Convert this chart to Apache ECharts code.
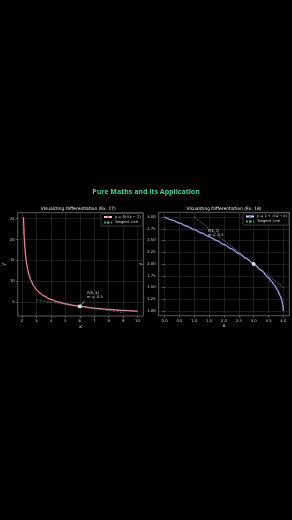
<!DOCTYPE html>
<html><head><meta charset="utf-8">
<script src="https://cdn.jsdelivr.net/npm/echarts@6/dist/echarts.min.js"></script>
<style>html,body{margin:0;padding:0;background:#000;}#c{width:292px;height:520px;}</style>
</head><body><div id="c"></div>
<script>
// ---- data ----
const mainTitle = 'Pure Maths and Its Application';
const leftTitle = 'Visualizing Differentiation (Ex. 17)';
const rightTitle = 'Visualizing Differentiation (Ex. 18)';

// Ex. 17: y = 8/sqrt(x-2)
const leftCurveX = [2.1, 2.12, 2.15, 2.2, 2.25, 2.3, 2.35, 2.4, 2.5, 2.6, 2.8, 3, 3.25, 3.5, 4, 4.5, 5, 5.5, 6, 7, 8, 9, 10];
const leftCurveY = [25.30, 23.09, 20.66, 17.89, 16.00, 14.61, 13.52, 12.65, 11.31, 10.33, 8.94, 8.00, 7.16, 6.53, 5.66, 5.06, 4.62, 4.28, 4.00, 3.58, 3.27, 3.02, 2.83];
const leftTangentX = [3, 9];
const leftTangentY = [5.5, 2.5];
const leftPoint = [6, 4];
const leftLabel = 'P(6, 4)\nm = -0.5';
const leftLabelAt = [6.5, 6.75];
const leftArrowX = [6.33, 6];
const leftArrowY = [5.3, 4];
const leftXTicks = [2, 3, 4, 5, 6, 7, 8, 9, 10];
const leftYTicks = [5, 10, 15, 20, 25];
const leftLegend = ['y = 8/√(x − 2)', 'Tangent Line'];

// Ex. 18: y = 1 + sqrt(4-x)
const rightCurveX = [0, 0.25, 0.5, 0.75, 1, 1.25, 1.5, 1.75, 2, 2.25, 2.5, 2.75, 3, 3.25, 3.5, 3.6, 3.7, 3.8, 3.9, 3.95, 3.98, 3.995, 4];
const rightCurveY = [3.000, 2.936, 2.871, 2.803, 2.732, 2.658, 2.581, 2.500, 2.414, 2.323, 2.225, 2.118, 2.000, 1.866, 1.707, 1.632, 1.548, 1.447, 1.316, 1.224, 1.141, 1.071, 1.000];
const rightTangentX = [1, 4];
const rightTangentY = [3, 1.5];
const rightPoint = [3, 2];
const rightLabel = 'P(3, 2)\nm = -0.5';
const rightLabelAt = [1.45, 2.66];
const rightXTicks = [0, 0.5, 1, 1.5, 2, 2.5, 3, 3.5, 4];
const rightYTicks = [1, 1.25, 1.5, 1.75, 2, 2.25, 2.5, 2.75, 3];
const rightLegend = ['y = 1 + √(4 − x)', 'Tangent Line'];

// ---- build ----
const zip = (xs, ys) => xs.map((x, i) => [x, ys[i]]);
const FONT = 'DejaVu Sans';
const tickColor = '#cfcfcf';
const gridColor = '#303030';

function xAxis(idx, min, max, ticks, fmt) {
  return {
    type: 'value', gridIndex: idx, min: min, max: max,
    name: 'x', nameLocation: 'middle', nameGap: 8,
    nameTextStyle: { color: '#ddd', fontSize: 5, fontFamily: FONT },
    axisLine: { show: false },
    axisTick: { show: true, length: 2, customValues: ticks, lineStyle: { color: '#aaa', width: 0.5 } },
    axisLabel: { customValues: ticks, formatter: fmt, color: tickColor, fontSize: 3.8, margin: 3, fontFamily: FONT },
    splitLine: { show: true, lineStyle: { color: gridColor, width: 0.6 } }
  };
}
function yAxis(idx, min, max, ticks, fmt, gap) {
  return {
    type: 'value', gridIndex: idx, min: min, max: max,
    name: 'y', nameLocation: 'middle', nameGap: gap, nameRotate: 90,
    nameTextStyle: { color: '#ddd', fontSize: 5, fontFamily: FONT },
    axisLine: { show: false },
    axisTick: { show: true, length: 2, customValues: ticks, lineStyle: { color: '#aaa', width: 0.5 } },
    axisLabel: { customValues: ticks, formatter: fmt, color: tickColor, fontSize: 3.8, margin: 3, fontFamily: FONT },
    splitLine: { show: true, lineStyle: { color: gridColor, width: 0.6 } }
  };
}

const chart = echarts.init(document.getElementById('c'), null, { renderer: 'canvas' });
chart.setOption({
  backgroundColor: '#000',
  animation: false,
  title: [
    { text: mainTitle, left: 146, top: 188, textAlign: 'center', padding: 0,
      textStyle: { color: '#3fd48e', fontSize: 7, fontWeight: 'bold', fontFamily: 'Open Sans' } },
    { text: leftTitle, left: 78.3, top: 206.6, textAlign: 'center', padding: 0,
      textStyle: { color: '#e8e8e8', fontSize: 4.4, fontWeight: 'normal', fontFamily: FONT } },
    { text: rightTitle, left: 224, top: 206.6, textAlign: 'center', padding: 0,
      textStyle: { color: '#e8e8e8', fontSize: 4.4, fontWeight: 'normal', fontFamily: FONT } }
  ],
  legend: [
    { data: leftLegend, orient: 'vertical', right: 149.3, top: 213.5, align: 'left',
      padding: [1.5, 2, 1.5, 2], itemGap: 1.5, itemWidth: 8, itemHeight: 3,
      borderColor: '#777', borderWidth: 0.5, backgroundColor: '#000', borderRadius: 1,
      textStyle: { color: '#ddd', fontSize: 3.6, fontFamily: FONT, padding: [0, 0, 0, -2] } },
    { data: rightLegend, orient: 'vertical', right: 3.2, top: 213, align: 'left',
      padding: [1.5, 2, 1.5, 2], itemGap: 1, itemWidth: 8, itemHeight: 3,
      borderColor: '#777', borderWidth: 0.5, backgroundColor: '#000', borderRadius: 1,
      textStyle: { color: '#ddd', fontSize: 3.6, fontFamily: FONT, padding: [0, 0, 0, -2] } }
  ],
  grid: [
    { left: 13.3, right: 292 - 143.3, top: 212.7, bottom: 520 - 316, show: true,
      borderColor: '#9a9a9a', borderWidth: 0.6, backgroundColor: 'transparent' },
    { left: 158.7, right: 292 - 289.3, top: 212.3, bottom: 520 - 315.7, show: true,
      borderColor: '#9a9a9a', borderWidth: 0.6, backgroundColor: 'transparent' }
  ],
  xAxis: [
    xAxis(0, 1.7, 10.4, leftXTicks, v => String(v)),
    xAxis(1, -0.2, 4.2, rightXTicks, v => v.toFixed(1))
  ],
  yAxis: [
    yAxis(0, 1.7, 26.42, leftYTicks, v => String(v), 8),
    yAxis(1, 0.9, 3.1, rightYTicks, v => v.toFixed(2), 10)
  ],
  series: [
    // left chart
    { type: 'line', name: 'glowL', xAxisIndex: 0, yAxisIndex: 0, data: zip(leftCurveX, leftCurveY),
      symbol: 'none', smooth: 0.3, smoothMonotone: 'x', lineStyle: { color: '#a8203a', width: 2.0, opacity: 0.7 }, z: 2 },
    { type: 'line', name: leftLegend[0], xAxisIndex: 0, yAxisIndex: 0, data: zip(leftCurveX, leftCurveY),
      symbol: 'none', smooth: 0.3, smoothMonotone: 'x', color: '#d9687e',
      lineStyle: { color: '#f0c4cc', width: 0.8 }, z: 3 },
    { type: 'line', name: leftLegend[1], xAxisIndex: 0, yAxisIndex: 0, data: zip(leftTangentX, leftTangentY),
      symbol: 'none', color: '#3aa874', lineStyle: { color: '#3aa874', width: 0.7, type: [2, 1.5] }, z: 4 },
    { type: 'line', name: 'arrowL', xAxisIndex: 0, yAxisIndex: 0, data: zip(leftArrowX, leftArrowY),
      symbol: 'none', lineStyle: { color: '#fff', width: 0.6 }, z: 5 },
    { type: 'scatter', name: 'ptL', xAxisIndex: 0, yAxisIndex: 0, data: [leftPoint],
      symbol: 'rect', symbolSize: 3.5, itemStyle: { color: '#fff' }, z: 6 },
    { type: 'scatter', name: 'lblL', xAxisIndex: 0, yAxisIndex: 0, data: [leftLabelAt],
      symbolSize: 0.01, itemStyle: { color: 'transparent' }, z: 7,
      label: { show: true, position: 'right', distance: 0, formatter: leftLabel, color: '#fff',
        fontSize: 3.6, lineHeight: 4.4, fontFamily: FONT, align: 'left' } },
    // right chart
    { type: 'line', name: 'glowR', xAxisIndex: 1, yAxisIndex: 1, data: zip(rightCurveX, rightCurveY),
      symbol: 'none', smooth: 0.3, smoothMonotone: 'x', lineStyle: { color: '#3a4c9c', width: 2.0, opacity: 0.75 }, z: 2 },
    { type: 'line', name: rightLegend[0], xAxisIndex: 1, yAxisIndex: 1, data: zip(rightCurveX, rightCurveY),
      symbol: 'none', smooth: 0.3, smoothMonotone: 'x', color: '#7080c8',
      lineStyle: { color: '#cdd7f5', width: 0.8 }, z: 3 },
    { type: 'line', name: rightLegend[1], xAxisIndex: 1, yAxisIndex: 1, data: zip(rightTangentX, rightTangentY),
      symbol: 'none', color: '#a8b098', lineStyle: { color: '#a8b098', width: 0.6, type: [2, 1.2] }, z: 4 },
    { type: 'scatter', name: 'ptR', xAxisIndex: 1, yAxisIndex: 1, data: [rightPoint],
      symbol: 'circle', symbolSize: 3.8, itemStyle: { color: '#fff' }, z: 6 },
    { type: 'scatter', name: 'lblR', xAxisIndex: 1, yAxisIndex: 1, data: [rightLabelAt],
      symbolSize: 0.01, itemStyle: { color: 'transparent' }, z: 7,
      label: { show: true, position: 'right', distance: 0, formatter: rightLabel, color: '#fff',
        fontSize: 3.6, lineHeight: 4.4, fontFamily: FONT, align: 'left' } }
  ]
});
</script>
</body></html>
